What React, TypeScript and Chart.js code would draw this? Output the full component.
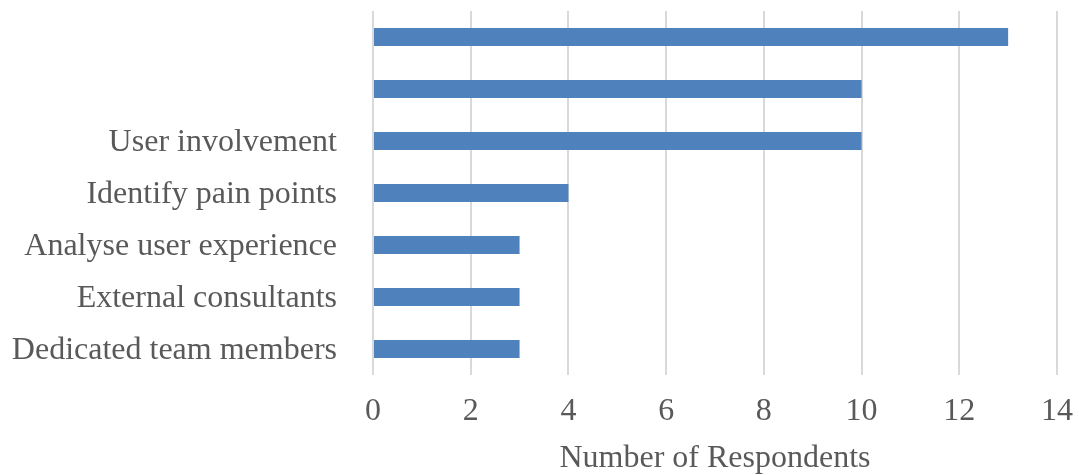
import React, { useEffect, useRef } from "react";
import { Chart, registerables } from "chart.js";
Chart.register(...registerables);

const categories = ["", "", "User involvement", "Identify pain points", "Analyse user experience", "External consultants", "Dedicated team members"];
const respondents = [13, 10, 10, 4, 3, 3, 3];
const xTicks = [0, 2, 4, 6, 8, 10, 12, 14];

export default function App() {
  const ref = useRef<HTMLCanvasElement>(null);
  useEffect(() => {
    const font = "'Liberation Serif', 'Times New Roman', serif";
    const chart = new Chart(ref.current!, {
      type: "bar",
      data: {
        labels: categories,
        datasets: [{ data: respondents, backgroundColor: "#4f81bd", barPercentage: 0.35, categoryPercentage: 1 }],
      },
      options: {
        indexAxis: "y",
        animation: false,
        responsive: false,
        maintainAspectRatio: false,
        layout: { padding: { top: 11, right: 22, left: 0, bottom: 0 } },
        plugins: { legend: { display: false }, tooltip: { enabled: false } },
        scales: {
          x: {
            min: 0,
            max: 14,
            afterBuildTicks: (s: any) => { s.ticks = xTicks.map((v) => ({ value: v })); },
            grid: { color: "#d9d9d9", lineWidth: 2, drawTicks: false },
            border: { display: false },
            ticks: { color: "#595959", font: { family: font, size: 32 }, padding: 17, maxRotation: 0 },
            title: { display: true, text: "Number of Respondents", color: "#595959", font: { family: font, size: 32, lineHeight: 1.0 }, padding: { top: 0, bottom: 0 } },
            afterFit: (s: any) => { s.height = 100; s.paddingLeft = 0; s.paddingRight = 0; },
          },
          y: {
            grid: { display: false, drawTicks: false },
            border: { display: false },
            ticks: { color: "#595959", font: { family: font, size: 32 }, padding: 36, labelOffset: 2 },
            afterFit: (s: any) => { s.width = 373; s.paddingTop = 0; s.paddingBottom = 0; },
          },
        },
      },
    });
    return () => chart.destroy();
  }, []);
  return (
    <div style={{ position: "absolute", left: 0, top: 0, width: 1079, height: 475, background: "#fff" }}>
      <canvas ref={ref} width={1079} height={475} />
    </div>
  );
}
